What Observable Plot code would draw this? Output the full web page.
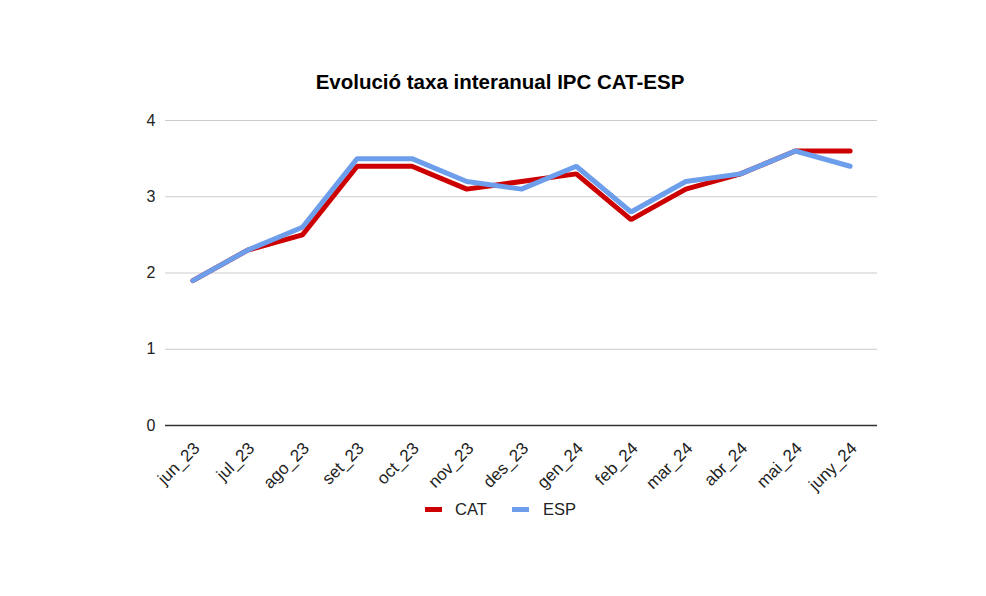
<!DOCTYPE html>
<html>
<head>
<meta charset="utf-8">
<script src="https://cdn.jsdelivr.net/npm/d3@7"></script>
<script src="https://cdn.jsdelivr.net/npm/@observablehq/plot@0.6"></script>
<style>
  body { margin: 0; background: #fff; font-family: Arial, "Liberation Sans", sans-serif; }
  #wrap { position: relative; width: 986px; height: 596px; overflow: hidden; }
  #title { position: absolute; top: 70px; left: 0; width: 1000px; text-align: center;
           font-weight: bold; font-size: 20.5px; line-height: 24px; color: #000; }
  #chart { position: absolute; top: 100px; left: 0; }
  #legend { position: absolute; top: 498px; left: 0; width: 986px; height: 22px; }
  .item { position: absolute; top: 0; font-size: 16.5px; line-height: 22px; color: #222; }
  .sw { position: absolute; top: 9px; width: 17px; height: 5px; }
</style>
</head>
<body>
<div id="wrap">
  <div id="title">Evolució taxa interanual IPC CAT-ESP</div>
  <div id="chart"></div>
  <div id="legend">
    <div class="sw" style="left:425px;background:#cc0000"></div>
    <div class="item" style="left:455px">CAT</div>
    <div class="sw" style="left:512px;background:#6d9eeb"></div>
    <div class="item" style="left:543px">ESP</div>
  </div>
</div>
<script>
// Months on the x axis
const months = ["jun_23", "jul_23", "ago_23", "set_23", "oct_23", "nov_23", "des_23",
                "gen_24", "feb_24", "mar_24", "abr_24", "mai_24", "juny_24"];
// Year-on-year CPI rate (%) for Catalonia and Spain
const cat = [1.9, 2.3, 2.5, 3.4, 3.4, 3.1, 3.2, 3.3, 2.7, 3.1, 3.3, 3.6, 3.6];
const esp = [1.9, 2.3, 2.6, 3.5, 3.5, 3.2, 3.1, 3.4, 2.8, 3.2, 3.3, 3.6, 3.4];
const yTicks = [0, 1, 2, 3, 4];

const rows = months.map((m, i) => ({mes: m, cat: cat[i], esp: esp[i]}));

const chart = Plot.plot({
  width: 986,
  height: 380,
  marginTop: 20,
  marginBottom: 55,
  marginLeft: 165,
  marginRight: 109,
  style: {fontFamily: "Arial, 'Liberation Sans', sans-serif", background: "#fff", overflow: "visible"},
  x: {type: "point", domain: months, padding: 0.5, round: false, label: null},
  y: {domain: [0, 4], label: null},
  marks: [
    Plot.ruleY(yTicks.filter(d => d > 0), {stroke: "#cccccc", strokeWidth: 1}),
    Plot.ruleY([0], {stroke: "#333333", strokeWidth: 1.5}),
    Plot.axisY(yTicks, {tickSize: 0, tickPadding: 10, fontSize: 16, fill: "#222", stroke: null,
                        tickFormat: d3.format("d"), label: null}),
    Plot.axisX({tickSize: 0, tickRotate: -45, tickPadding: 8, fontSize: 17, fill: "#222",
                dx: 4, dy: 12, label: null}),
    Plot.lineY(rows, {x: "mes", y: "cat", stroke: "#cc0000", strokeWidth: 5, strokeLinejoin: "miter"}),
    Plot.lineY(rows, {x: "mes", y: "esp", stroke: "#6d9eeb", strokeWidth: 5, strokeLinejoin: "miter"})
  ]
});
document.getElementById("chart").appendChild(chart);
</script>
</body>
</html>
